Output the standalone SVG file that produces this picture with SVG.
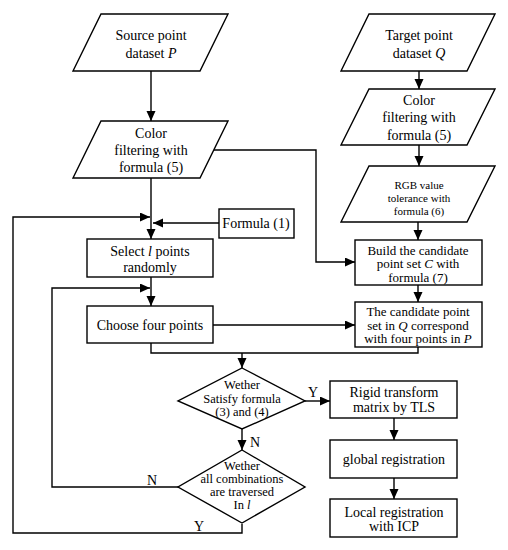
<svg xmlns="http://www.w3.org/2000/svg" width="508" height="550" viewBox="0 0 508 550" font-family="'Liberation Serif', 'DejaVu Serif', serif">
<style>
.s{fill:#fff;stroke:#000;stroke-width:1.4}
.c{fill:none;stroke:#000;stroke-width:1.4}
text{font-family:'Liberation Serif','DejaVu Serif',serif;font-size:14px;fill:#000;text-anchor:middle}
.sm{font-size:11px}
.t{font-size:12.5px}
.b{font-size:13px}
.i{font-style:italic}
</style>
<defs>
<marker id="a" markerUnits="userSpaceOnUse" markerWidth="11" markerHeight="10" refX="10" refY="4.5" orient="auto">
<path d="M0,0 L10,4.5 L0,9 z" fill="#000"/>
</marker>
</defs>
<g id="connectors" class="c">
<path d="M151,71 V121" marker-end="url(#a)"/>
<path d="M214,150 H316 V262 H355" marker-end="url(#a)"/>
<path d="M151,178 V239" marker-end="url(#a)"/>
<path d="M242,524 V533 H13 V217 H150" marker-end="url(#a)"/>
<path d="M219,223 H153" marker-end="url(#a)"/>
<path d="M151,277 V306" marker-end="url(#a)"/>
<path d="M179,487 H52 V288 H150" marker-end="url(#a)"/>
<path d="M213,325 H355" marker-end="url(#a)"/>
<path d="M151,343 V353 H418 V347"/>
<path d="M242,353 V368" marker-end="url(#a)"/>
<path d="M419,71 V89" marker-end="url(#a)"/>
<path d="M419,145 V166" marker-end="url(#a)"/>
<path d="M418,222 V240" marker-end="url(#a)"/>
<path d="M418,285 V302" marker-end="url(#a)"/>
<path d="M305,401 H330" marker-end="url(#a)"/>
<path d="M242,429 V450" marker-end="url(#a)"/>
<path d="M394,418 V440" marker-end="url(#a)"/>
<path d="M394,478 V499" marker-end="url(#a)"/>
</g>
<g id="labels">
<text x="313" y="397">Y</text>
<text x="255" y="447">N</text>
<text x="152" y="485">N</text>
<text x="199" y="531">Y</text>
</g>
<g id="source">
<polygon class="s" points="101,14 228,14 200,71 73,71"/>
<text x="151" y="40">Source point</text>
<text x="151" y="58">dataset <tspan class="i">P</tspan></text>
</g>
<g id="colorP">
<polygon class="s" points="101,121 228,121 200,178 73,178"/>
<text x="151" y="138">Color</text>
<text x="151" y="155">filtering with</text>
<text x="151" y="172">formula (5)</text>
</g>
<g id="target">
<polygon class="s" points="369,14 495,14 467,71 341,71"/>
<text x="419" y="40">Target point</text>
<text x="419" y="58">dataset <tspan class="i">Q</tspan></text>
</g>
<g id="colorQ">
<polygon class="s" points="369,89 495,89 467,145 341,145"/>
<text x="419" y="105">Color</text>
<text x="419" y="122">filtering with</text>
<text x="419" y="140">formula (5)</text>
</g>
<g id="rgb">
<polygon class="s" points="369,166 495,166 467,222 341,222"/>
<text class="sm" x="419" y="189">RGB value</text>
<text class="sm" x="419" y="202">tolerance with</text>
<text class="sm" x="419" y="215">formula (6)</text>
</g>
<g id="formula1">
<rect class="s" x="219" y="209" width="75" height="29"/>
<text x="256" y="228">Formula (1)</text>
</g>
<g id="select">
<rect class="s" x="87" y="239" width="126" height="38"/>
<text x="150" y="256">Select <tspan class="i">l</tspan> points</text>
<text x="150" y="272">randomly</text>
</g>
<g id="build">
<rect class="s" x="355" y="240" width="127" height="45"/>
<text class="b" x="418" y="254.5">Build the candidate</text>
<text class="b" x="418" y="268">point set <tspan class="i">C</tspan> with</text>
<text class="b" x="418" y="281.5">formula (7)</text>
</g>
<g id="choose">
<rect class="s" x="87" y="306" width="126" height="37"/>
<text x="150" y="330">Choose four points</text>
</g>
<g id="candidate">
<rect class="s" x="355" y="302" width="127" height="45"/>
<text class="b" x="418" y="316">The candidate point</text>
<text class="b" x="418" y="329.5">set in <tspan class="i">Q</tspan> correspond</text>
<text class="b" x="418" y="343">with four points in <tspan class="i">P</tspan></text>
</g>
<g id="decision1">
<polygon class="s" points="242,368 305,401 242,429 178,401"/>
<text class="t" x="242" y="389">Wether</text>
<text class="t" x="242" y="402.5">Satisfy formula</text>
<text class="t" x="242" y="416">(3) and (4)</text>
</g>
<g id="decision2">
<polygon class="s" points="242,450 305,487 242,523 178,487"/>
<text class="t" x="242" y="470">Wether</text>
<text class="t" x="242" y="483">all combinations</text>
<text class="t" x="242" y="496">are traversed</text>
<text class="t" x="242" y="509">In <tspan class="i">l</tspan></text>
</g>
<g id="rigid">
<rect class="s" x="330" y="381" width="127" height="37"/>
<text x="394" y="397">Rigid transform</text>
<text x="394" y="412">matrix by TLS</text>
</g>
<g id="global">
<rect class="s" x="330" y="440" width="127" height="38"/>
<text x="394" y="464">global registration</text>
</g>
<g id="local">
<rect class="s" x="330" y="499" width="127" height="38"/>
<text x="394" y="517">Local registration</text>
<text x="394" y="531">with ICP</text>
</g>
</svg>
